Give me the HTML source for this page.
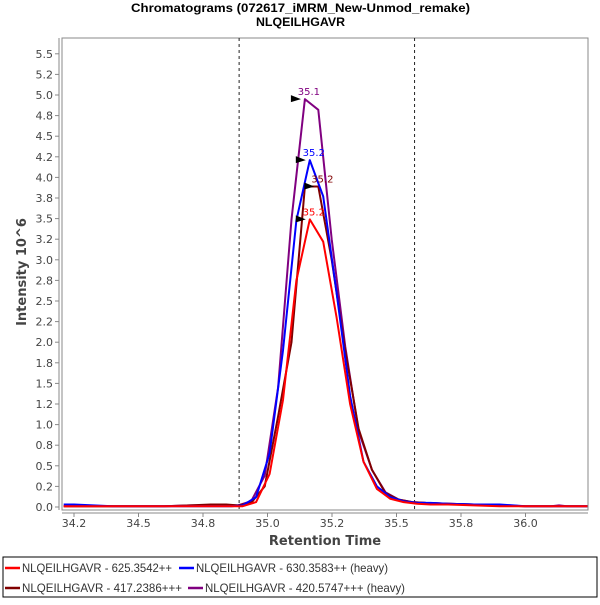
<!DOCTYPE html>
<html><head><meta charset="utf-8"><style>
body{margin:0;background:#fff;width:600px;height:600px;overflow:hidden;font-family:"Liberation Sans","DejaVu Sans",sans-serif}
svg text{font-family:"DejaVu Sans","Liberation Sans",sans-serif}
svg text.lib{font-family:"Liberation Sans",sans-serif}
</style></head><body>
<svg id="chart" width="600" height="600" xmlns="http://www.w3.org/2000/svg">
<text class="lib" x="131" y="12" textLength="339" lengthAdjust="spacingAndGlyphs" font-size="12" font-weight="bold" fill="#000">Chromatograms (072617_iMRM_New-Unmod_remake)</text>
<text class="lib" x="256" y="26" textLength="89" lengthAdjust="spacingAndGlyphs" font-size="12" font-weight="bold" fill="#000">NLQEILHGAVR</text>
<rect x="62" y="38" width="526" height="472" fill="#fff" stroke="#888" stroke-width="1"/>
<g id="axes"></g><g id="series"></g><g id="annot"></g>
<text x="325" y="545" text-anchor="middle" font-size="13" font-weight="bold" fill="#444">Retention Time</text>
<text transform="translate(26,272) rotate(-90)" text-anchor="middle" font-size="13" font-weight="bold" fill="#444">Intensity 10^6</text>
<g>
<rect x="3" y="557" width="594" height="40" fill="#fff" stroke="#000" stroke-width="1"/>
<g><line x1="5" y1="568" x2="20" y2="568" stroke="#ff0000" stroke-width="2.5"/><text class="lib" x="22" y="572" textLength="150" lengthAdjust="spacingAndGlyphs" font-size="12" fill="#333">NLQEILHGAVR - 625.3542++</text></g>
<g><line x1="179" y1="568" x2="194" y2="568" stroke="#0000ff" stroke-width="2.5"/><text class="lib" x="196" y="572" textLength="192" lengthAdjust="spacingAndGlyphs" font-size="12" fill="#333">NLQEILHGAVR - 630.3583++ (heavy)</text></g>
<g><line x1="5" y1="588" x2="20" y2="588" stroke="#800000" stroke-width="2.5"/><text class="lib" x="22" y="592" textLength="160" lengthAdjust="spacingAndGlyphs" font-size="12" fill="#333">NLQEILHGAVR - 417.2386+++</text></g>
<g><line x1="188" y1="588" x2="203" y2="588" stroke="#800080" stroke-width="2.5"/><text class="lib" x="205" y="592" textLength="200" lengthAdjust="spacingAndGlyphs" font-size="12" fill="#333">NLQEILHGAVR - 420.5747+++ (heavy)</text></g>
</g>
</svg>
<script>
const NS='http://www.w3.org/2000/svg';
const xTicks=[34.25,34.5,34.75,35.0,35.25,35.5,35.75,36.0];
const xTickLabels=['34.2','34.5','34.8','35.0','35.2','35.5','35.8','36.0'];
const yTicks=[0,0.25,0.5,0.75,1,1.25,1.5,1.75,2,2.25,2.5,2.75,3,3.25,3.5,3.75,4,4.25,4.5,4.75,5,5.25,5.5];
const yTickLabels=['0.0','0.2','0.5','0.8','1.0','1.2','1.5','1.8','2.0','2.2','2.5','2.8','3.0','3.2','3.5','3.8','4.0','4.2','4.5','4.8','5.0','5.2','5.5'];
const boundaries=[34.89,35.57];
const timesA=[34.21,34.4,34.6,34.7,34.78,34.84,34.885,34.937,34.989,35.041,35.093,35.145,35.197,35.249,35.301,35.353,35.405,35.457,35.509,35.561,35.613,35.7,35.8,35.9,36.0,36.1,36.13,36.16,36.24];
const purpleVals=[0.01,0.01,0.01,0.02,0.02,0.02,0.02,0.07,0.38,1.45,3.49,4.95,4.82,3.25,1.95,0.92,0.45,0.18,0.09,0.06,0.05,0.04,0.03,0.02,0.01,0.01,0.02,0.01,0.01];
const darkredVals=[0.01,0.01,0.01,0.02,0.03,0.03,0.02,0.05,0.25,1.1,2.0,3.89,3.89,3.0,1.9,0.95,0.45,0.17,0.09,0.06,0.05,0.04,0.03,0.02,0.01,0.01,0.01,0.01,0.01];
const timesB=[34.21,34.25,34.4,34.6,34.8,34.86,34.904,34.956,35.008,35.06,35.112,35.164,35.216,35.268,35.32,35.372,35.424,35.476,35.528,35.58,35.632,35.7,35.8,35.9,36.0,36.1,36.24];
const blueVals=[0.03,0.03,0.01,0.01,0.01,0.01,0.02,0.12,0.65,1.9,3.48,4.21,3.77,2.6,1.35,0.55,0.25,0.12,0.07,0.05,0.05,0.04,0.03,0.03,0.01,0.01,0.01];
const redVals=[0.01,0.01,0.01,0.01,0.01,0.01,0.01,0.06,0.4,1.3,2.75,3.49,3.22,2.3,1.25,0.55,0.22,0.1,0.06,0.04,0.03,0.03,0.02,0.01,0.01,0.01,0.01];
const apexLabels=['35.1','35.2','35.2','35.2'];
function X(t){return 74+(t-34.25)*258;}
function Y(v){return 507-v*82.4;}
const axes=document.getElementById('axes');
function mk(tag,attrs,parent){const e=document.createElementNS(NS,tag);for(const k in attrs)e.setAttribute(k,attrs[k]);parent.appendChild(e);return e;}
const yAxis=mk('line',{x1:59,y1:38,x2:59,y2:510,stroke:'#888'},axes);


const xAxis=mk('line',{x1:62,y1:513,x2:588,y2:513,stroke:'#888'},axes);


yTicks.forEach((v,i)=>{const y=Y(v);
 mk('line',{x1:55,y1:y,x2:59,y2:y,stroke:'#888'},axes);
 const t=mk('text',{x:53,y:y+4,'text-anchor':'end','font-size':'11',fill:'#444'},axes);t.textContent=yTickLabels[i];
 
 });
xTicks.forEach((v,i)=>{const x=X(v);
 mk('line',{x1:x,y1:513,x2:x,y2:517,stroke:'#888'},axes);
 const t=mk('text',{x:x,y:527,'text-anchor':'middle','font-size':'11',fill:'#444'},axes);t.textContent=xTickLabels[i];
 
 });
boundaries.forEach(b=>{const l=mk('line',{x1:X(b),y1:38,x2:X(b),y2:510,stroke:'#222','stroke-dasharray':'3,3'},axes);
 
 });
const ser=document.getElementById('series');
const seriesList=[
 {n:'series-625',t:timesB,v:redVals,c:'#ff0000'},
 {n:'series-417',t:timesA,v:darkredVals,c:'#800000'},
 {n:'series-630',t:timesB,v:blueVals,c:'#0000ff'},
 {n:'series-420',t:timesA,v:purpleVals,c:'#800080'}];
const draw=[seriesList[3],seriesList[1],seriesList[2],seriesList[0]];
draw.forEach(s=>{const d=s.t.map((t,i)=>(i?'L':'M')+X(t).toFixed(1)+','+Y(s.v[i]).toFixed(1)).join('');
 const p=mk('path',{d:d,fill:'none',stroke:s.c,'stroke-width':2,'stroke-linejoin':'round'},ser);
 
 });
const an=document.getElementById('annot');
const annSeries=[seriesList[3],seriesList[2],seriesList[1],seriesList[0]];
annSeries.forEach((s,k)=>{let mi=0;s.v.forEach((v,i)=>{if(v>=s.v[mi])mi=i;});
 const x=X(s.t[mi]),y=Y(s.v[mi]);
 const tri=mk('polygon',{points:(x-14)+','+(y-4)+' '+(x-4)+','+y+' '+(x-14)+','+(y+3),fill:'#000'},an);
 
 
 const tx=mk('text',{x:x+4,y:y-4,'text-anchor':'middle','font-size':'10',fill:s.c},an);tx.textContent=apexLabels[k];
 
 });
</script>
</body></html>
